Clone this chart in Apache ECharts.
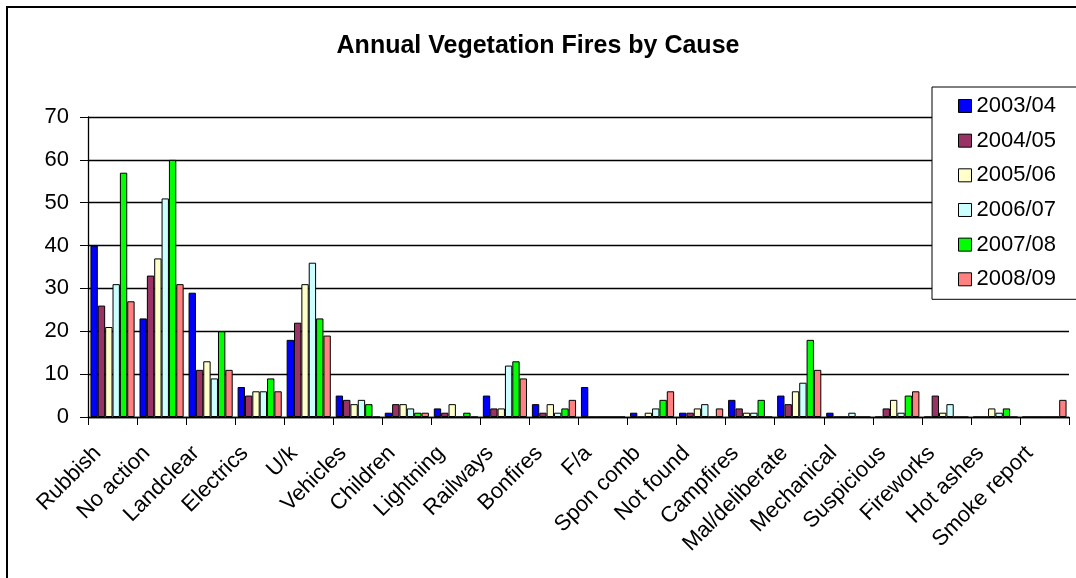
<!DOCTYPE html>
<html>
<head>
<meta charset="utf-8">
<script src="https://cdn.jsdelivr.net/npm/echarts@6/dist/echarts.min.js"></script>
<style>
html, body { margin: 0; padding: 0; background: #fff; }
#chart { width: 1076px; height: 578px; }
</style>
</head>
<body>
<div id="chart"></div>
<script>
var causes = ['Rubbish', 'No action', 'Landclear', 'Electrics', 'U/k', 'Vehicles', 'Children', 'Lightning',
    'Railways', 'Bonfires', 'F/a', 'Spon comb', 'Not found', 'Campfires', 'Mal/deliberate', 'Mechanical',
    'Suspicious', 'Fireworks', 'Hot ashes', 'Smoke report'];

var y2003 = [40, 23, 29, 7, 18, 5, 1, 2, 5, 3, 7, 1, 1, 4, 5, 1, 0, 0, 0, 0];
var y2004 = [26, 33, 11, 5, 22, 4, 3, 1, 2, 1, 0, 0, 1, 2, 3, 0, 2, 5, 0, 0];
var y2005 = [21, 37, 13, 6, 31, 3, 3, 3, 2, 3, 0, 1, 2, 1, 6, 0, 4, 1, 2, 0];
var y2006 = [31, 51, 9, 6, 36, 4, 2, 0, 12, 1, 0, 2, 3, 1, 8, 1, 1, 3, 1, 0];
var y2007 = [57, 60, 20, 9, 23, 3, 1, 1, 13, 2, 0, 4, 0, 4, 18, 0, 5, 0, 2, 0];
var y2008 = [27, 31, 11, 6, 19, 0, 1, 0, 9, 4, 0, 6, 2, 0, 11, 0, 6, 0, 0, 4];

var seasons = ['2003/04', '2004/05', '2005/06', '2006/07', '2007/08', '2008/09'];
var values = [y2003, y2004, y2005, y2006, y2007, y2008];
var colors = ['#0000ff', '#993366', '#ffffcc', '#ccffff', '#00ff00', '#ff8080'];

var font = 'Arial, "Liberation Sans", sans-serif';

var chart = echarts.init(document.getElementById('chart'));

var series = [];
for (var i = 0; i < seasons.length; i++) {
    series.push({
        name: seasons[i],
        type: 'bar',
        data: values[i],
        barGap: 0,
        barCategoryGap: '10%',
        itemStyle: {
            color: colors[i],
            borderColor: '#000',
            borderWidth: 1
        }
    });
}

var option = {
    animation: false,
    backgroundColor: '#fff',
    textStyle: { fontFamily: font },
    graphic: [{
        // outer chart frame, runs off the right and bottom edges
        type: 'rect',
        shape: { x: 7, y: 7, width: 1100, height: 620 },
        style: { fill: 'none', stroke: '#000', lineWidth: 2 },
        z: 100
    }],
    title: {
        text: 'Annual Vegetation Fires by Cause',
        left: 'center',
        top: 29,
        textStyle: { fontFamily: font, fontSize: 25, fontWeight: 'bold', color: '#000' }
    },
    legend: {
        orient: 'vertical',
        left: 932,
        top: 87,
        padding: [8, 40, 9, 26],
        itemWidth: 13,
        itemHeight: 13,
        itemGap: 12.66,
        backgroundColor: '#fff',
        borderColor: '#000',
        borderWidth: 1,
        borderRadius: 0,
        icon: 'rect',
        itemStyle: { borderColor: '#000', borderWidth: 1 },
        textStyle: { fontFamily: font, fontSize: 22, color: '#000', lineHeight: 22 },
        data: seasons
    },
    grid: { left: 88, right: 7, top: 117, bottom: 161, containLabel: false },
    xAxis: {
        type: 'category',
        data: causes,
        axisLine: { lineStyle: { color: '#000', width: 1.3 } },
        axisTick: { show: true, length: 8, lineStyle: { color: '#000' } },
        axisLabel: {
            interval: 0,
            rotate: 45,
            margin: 18,
            padding: [0, 21, 0, 0], // pushes the rotated text back towards the lower left
            color: '#000',
            fontFamily: font,
            fontSize: 22
        }
    },
    yAxis: {
        type: 'value',
        min: 0,
        max: 70,
        interval: 10,
        axisLine: { show: true, lineStyle: { color: '#000', width: 1.3 } },
        axisTick: { show: true, length: 8, lineStyle: { color: '#000' } },
        splitLine: { lineStyle: { color: '#000', width: 1.3 } },
        axisLabel: { color: '#000', fontFamily: font, fontSize: 22, margin: 19 }
    },
    series: series
};

chart.setOption(option);
</script>
</body>
</html>
